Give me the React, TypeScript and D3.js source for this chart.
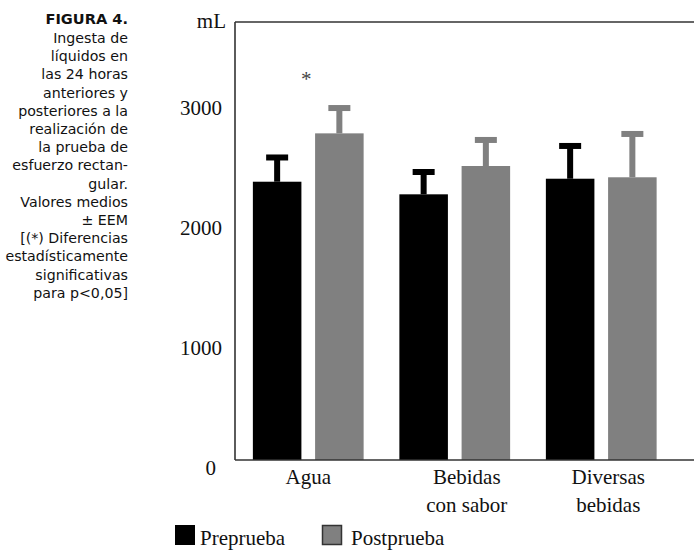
import React from "react";
import * as d3 from "d3";

const categories = ["Agua", "Bebidas|con sabor", "Diversas|bebidas"];
const seriesNames = ["Preprueba", "Postprueba"];
const preValues = [2319, 2214, 2344];
const postValues = [2722, 2450, 2356];
const preErrTop = [2521, 2400, 2617];
const postErrTop = [2933, 2667, 2717];
const yTicks = [0, 1000, 2000, 3000];
const significant = [true, false, false];
const captionLines = [
  "Ingesta de",
  "líquidos en",
  "las 24 horas",
  "anteriores y",
  "posteriores a la",
  "realización de",
  "la prueba de",
  "esfuerzo rectan-",
  "gular.",
  "Valores medios",
  "± EEM",
  "[(*) Diferencias",
  "estadísticamente",
  "significativas",
  "para p<0,05]",
];

const W = 694;
const H = 551;
const colors = ["#000000", "#808080"];
const labelDx = [0, 12, 7];

export default function App() {
  const x0 = 235;
  const yTop = 22;
  const yBot = 460;
  const y = d3.scaleLinear().domain([0, 3650]).range([yBot, yTop]);
  const xg = d3
    .scaleBand<string>()
    .domain(categories)
    .range([235, 674.5])
    .paddingInner(0.244)
    .paddingOuter(0.122);
  const xs = d3
    .scaleBand<string>()
    .domain(seriesNames)
    .range([0, xg.bandwidth()])
    .paddingInner(0.22);
  const vals = [preValues, postValues];
  const errs = [preErrTop, postErrTop];
  const serif = "'Liberation Serif', 'Times New Roman', serif";
  const sans = "'DejaVu Sans', sans-serif";

  return (
    <svg width={W} height={H} style={{ position: "absolute", left: 0, top: 0, background: "#fff" }}>
      {/* caption */}
      <g fontFamily={sans} textAnchor="end" fill="#111">
        <text x={128} y={24} fontSize={14.6} fontWeight="bold">FIGURA 4.</text>
        {captionLines.map((l, i) => (
          <text key={i} x={128} y={43 + i * 18.2} fontSize={14.2}>{l}</text>
        ))}
      </g>

      {/* bars */}
      {categories.map((c, ci) =>
        seriesNames.map((s, si) => {
          const bx = (xg(c) as number) + (xs(s) as number);
          const bw = xs.bandwidth();
          const cx = bx + bw / 2;
          const v = vals[si][ci];
          const e = errs[si][ci];
          return (
            <g key={c + s}>
              <rect x={bx} y={y(v)} width={bw} height={yBot - y(v)} fill={colors[si]} />
              <rect x={cx - 3} y={y(e)} width={6} height={y(v) - y(e)} fill={colors[si]} />
              <rect x={cx - 11} y={y(e) - 3} width={22} height={6} fill={colors[si]} />
            </g>
          );
        })
      )}

      {/* significance marker */}
      {categories.map((c, ci) =>
        significant[ci] ? (
          <text
            key={"s" + c}
            x={(xg(c) as number) + xg.bandwidth() / 2 - 2}
            y={y(postErrTop[ci]) - 22}
            fontFamily={serif}
            fontSize={21}
            fill="#444"
            textAnchor="middle"
          >
            *
          </text>
        ) : null
      )}

      {/* axes frame */}
      <line x1={x0} y1={yTop} x2={x0} y2={yBot} stroke="#333" strokeWidth={1.6} />
      <line x1={x0} y1={yTop} x2={W} y2={yTop} stroke="#333" strokeWidth={1.6} />
      <line x1={x0} y1={yBot} x2={W} y2={yBot} stroke="#333" strokeWidth={1.6} />

      {/* y ticks */}
      <g fontFamily={serif} fontSize={21} fill="#111" textAnchor="end">
        {yTicks.map((t) => (
          <text key={t} x={t === 0 ? 216 : 222} y={y(t) + 15}>{t}</text>
        ))}
        <text x={226} y={28}>mL</text>
      </g>

      {/* x labels */}
      <g fontFamily={serif} fontSize={21} fill="#111" textAnchor="middle">
        {categories.map((c, ci) => {
          const cx = (xg(c) as number) + xg.bandwidth() / 2 + labelDx[ci];
          return c.split("|").map((line, li) => (
            <text key={c + li} x={cx} y={484 + li * 28}>{line}</text>
          ));
        })}
      </g>

      {/* legend */}
      <g fontFamily={serif} fontSize={21} fill="#111">
        <rect x={175} y={525} width={20} height={20} fill={colors[0]} />
        <text x={200} y={545}>{seriesNames[0]}</text>
        <rect x={322.5} y={525.5} width={19} height={19} fill={colors[1]} stroke="#333" strokeWidth={1.5} />
        <text x={351} y={545}>{seriesNames[1]}</text>
      </g>
    </svg>
  );
}
